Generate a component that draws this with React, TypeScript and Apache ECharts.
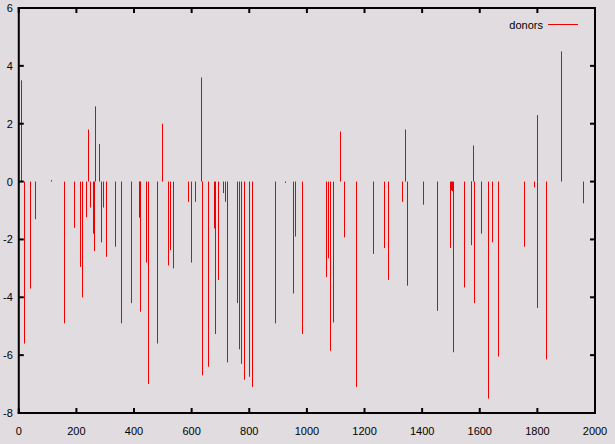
import React, { useEffect, useRef } from "react";
import * as echarts from "echarts";

const positions = [
  8, 17, 39, 58, 111, 157, 192, 211, 219, 233, 240, 247, 258, 261, 264, 278, 285, 292, 303, 334,
  355, 389, 416, 418, 420, 441, 448, 479, 497, 517, 524, 535, 587, 597, 611, 632, 635, 656, 679, 682,
  690, 708, 715, 722, 757, 764, 773, 780, 798, 809, 889, 923, 951, 958, 982, 1065, 1072, 1079, 1090, 1114,
  1128, 1169, 1228, 1267, 1280, 1329, 1339, 1346, 1403, 1453, 1495, 1500, 1502, 1506, 1547, 1568, 1570, 1577, 1579, 1604,
  1627, 1644, 1663, 1753, 1790, 1797, 1800, 1831, 1881, 1960,
];
const donors = [
  3.5, -5.6, -3.7, -1.3, 0.05, -4.9, -1.6, -2.95, -4.0, -1.23, 1.8, -0.9, -1.8, -2.4, 2.6, 1.3, -2.1, -0.9, -2.6, -2.25,
  -4.9, -4.2, -1.25, -1.1, -4.5, -2.8, -7.0, -5.6, 2.0, -2.9, -2.37, -3.0, -0.7, -2.8, -0.7, 3.6, -6.7, -6.4, -1.62, -5.27,
  -3.4, -0.4, -0.7, -6.25, -4.2, -5.8, -6.3, -6.85, -6.75, -7.1, -4.9, -0.05, -3.87, -1.9, -5.27, -3.3, -2.65, -5.85, -4.87, 1.73,
  -1.93, -7.1, -2.5, -2.3, -3.4, -0.7, 1.8, -3.6, -0.8, -4.47, -2.3, -0.3, -0.33, -5.9, -3.66, -2.2, -1.15, 1.25, -4.2, -1.8,
  -7.5, -2.1, -6.05, -2.25, -0.2, 2.3, -4.37, -6.15, 4.5, -0.75,
];

const X_MIN = 0, X_MAX = 2000, X_STEP = 200;
const Y_MIN = -8, Y_MAX = 6, Y_STEP = 2;

const BG = "#e0dce0";
const RED = "#ee0000";
const INK = "#000000";
const FONT = "Liberation Sans";

export default function App() {
  const ref = useRef<HTMLDivElement>(null);
  useEffect(() => {
    if (!ref.current) return;
    const chart = echarts.init(ref.current, null, { renderer: "svg" });
    const data = positions.map((x, i) => [x, donors[i]]);
    chart.setOption({
      animation: false,
      backgroundColor: BG,
      grid: { left: 18, right: 20, top: 8, bottom: 31 },
      legend: {
        right: 32,
        top: 14,
        align: "right",
        itemWidth: 30,
        itemHeight: 1,
        icon: "rect",
        textStyle: { color: "#000", fontFamily: FONT, fontSize: 11 },
        data: [{ name: "donors", icon: "rect", itemStyle: { color: RED } }],
      },
      xAxis: {
        type: "value", min: X_MIN, max: X_MAX, interval: X_STEP,
        axisLine: { show: false }, axisTick: { show: false }, splitLine: { show: false },
        axisLabel: { color: "#000", fontFamily: FONT, fontSize: 11, margin: 12, formatter: (v: number) => String(v) },
      },
      yAxis: {
        type: "value", min: Y_MIN, max: Y_MAX, interval: Y_STEP,
        axisLine: { show: false }, axisTick: { show: false }, splitLine: { show: false },
        axisLabel: { color: "#000", fontFamily: FONT, fontSize: 11, margin: 6, formatter: (v: number) => String(v) },
      },
      series: [
        {
          name: "donors",
          type: "custom",
          itemStyle: { color: RED },
          data,
          renderItem: (params: any, api: any) => {
            const p0 = api.coord([api.value(0), 0]);
            const p1 = api.coord([api.value(0), api.value(1)]);
            return {
              type: "line",
              shape: { x1: Math.round(p0[0]) + 0.5, y1: p0[1], x2: Math.round(p1[0]) + 0.5, y2: p1[1] },
              style: { stroke: RED, lineWidth: 1 },
            };
          },
        },
      ],
    });

    // Frame and mirrored inward ticks, drawn as filled rects from the axes' own scale.
    const px = (x: number, y: number) => chart.convertToPixel({ gridIndex: 0 }, [x, y]) as number[];
    const [xl, yb] = px(X_MIN, Y_MIN);
    const [xr, yt] = px(X_MAX, Y_MAX);
    const T = 2, L = 5;
    const frame: any[] = [
      { type: "rect", z: 100, shape: { x: xl - 1, y: yt - 1, width: xr - xl + 2, height: T }, style: { fill: INK } },
      { type: "rect", z: 100, shape: { x: xl - 1, y: yb - 1, width: xr - xl + 2, height: T }, style: { fill: INK } },
      { type: "rect", z: 100, shape: { x: xl - 1, y: yt - 1, width: T, height: yb - yt + 2 }, style: { fill: INK } },
      { type: "rect", z: 100, shape: { x: xr - 1, y: yt - 1, width: T, height: yb - yt + 2 }, style: { fill: INK } },
    ];
    for (let v = X_MIN; v <= X_MAX; v += X_STEP) {
      const [x] = px(v, Y_MIN);
      frame.push({ type: "rect", z: 100, shape: { x: x - 1, y: yb - L, width: T, height: L }, style: { fill: INK } });
      frame.push({ type: "rect", z: 100, shape: { x: x - 1, y: yt, width: T, height: L }, style: { fill: INK } });
    }
    for (let v = Y_MIN; v <= Y_MAX; v += Y_STEP) {
      const [, y] = px(X_MIN, v);
      frame.push({ type: "rect", z: 100, shape: { x: xl, y: y - 1, width: L, height: T }, style: { fill: INK } });
      frame.push({ type: "rect", z: 100, shape: { x: xr - L, y: y - 1, width: L, height: T }, style: { fill: INK } });
    }
    chart.setOption({ graphic: frame });

    return () => chart.dispose();
  }, []);
  return (
    <div
      ref={ref}
      style={{ position: "fixed", left: 0, top: 0, width: 615, height: 444, background: BG }}
    />
  );
}
